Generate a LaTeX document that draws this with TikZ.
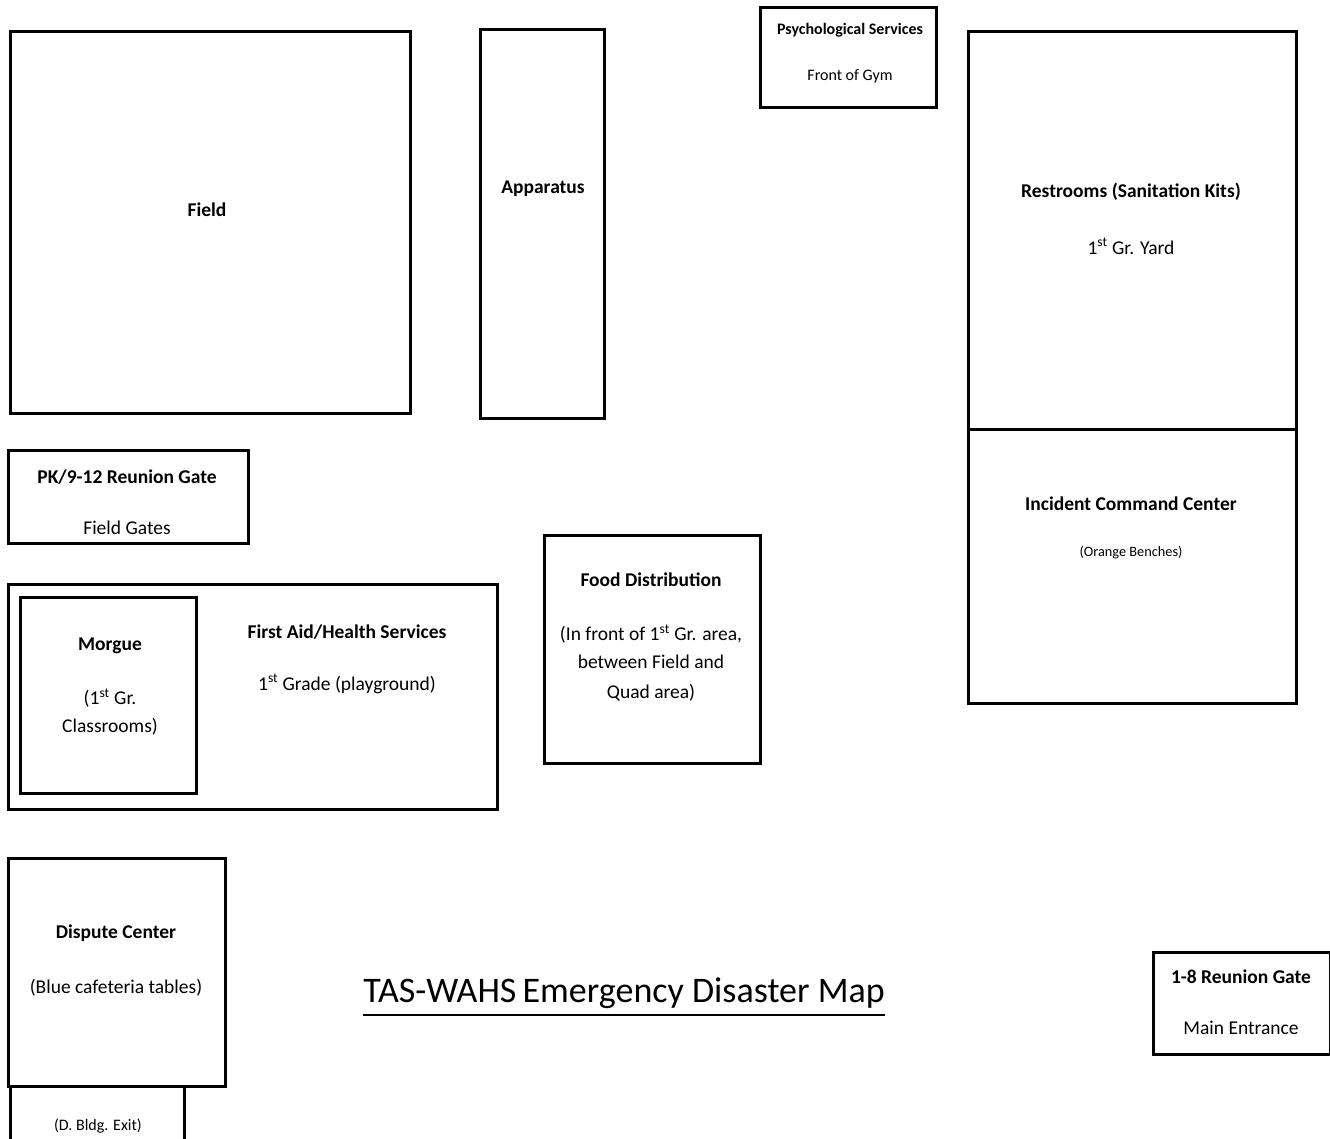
\documentclass[tikz,border=0pt]{standalone}
\usepackage{fontspec}
\setmainfont{Carlito}
\tikzset{
  zone/.style={draw=black, line width=3pt},
  zonetitle/.style={font=\fontsize{19.5}{23}\selectfont\bfseries, inner sep=0pt},
  zonetext/.style={font=\fontsize{19.5}{23}\selectfont, inner sep=0pt, align=center},
  smalltext/.style={font=\fontsize{14.3}{17}\selectfont, inner sep=0pt}
}
\begin{document}
\begin{tikzpicture}[x=1pt, y=-1pt]
    \useasboundingbox (0,0) rectangle (1330,1139);

    % Field and apparatus
    \draw[zone] (10,32) rectangle (410,413);
    \node[zonetitle] (field) at (207,210) {Field};
    \draw[zone] (480,30) rectangle (604,418);
    \node[zonetitle] (apparatus) at (543,189) {Apparatus};

    % Psychological services
    \draw[zone] (760,8) rectangle (936,108);
    \node[zonetitle, font=\fontsize{16}{19}\selectfont\bfseries] (psych) at (850,30) {Psychological Services};
    \node[zonetext, font=\fontsize{16}{19}\selectfont] (gym) at (850,76) {Front of Gym};

    % Restrooms and command center
    \draw[zone] (968,32) rectangle (1296,429);
    \node[zonetitle] (restrooms) at (1131,192) {Restrooms (Sanitation Kits)};
    \node[zonetext] (yard) at (1131,246) {1\textsuperscript{st} Gr. Yard};
    \draw[zone] (968,429) rectangle (1296,703);
    \node[zonetitle] (command) at (1131,504) {Incident Command Center};
    \node[smalltext] (benches) at (1131,552) {(Orange Benches)};

    % PK/9-12 gate
    \draw[zone] (8,450) rectangle (248,543);
    \node[zonetitle] (pkgate) at (127,477) {PK/9-12 Reunion Gate};
    \node[zonetext] (fieldgates) at (127,528) {Field Gates};

    % First aid and morgue
    \draw[zone] (8,584) rectangle (497,809);
    \node[zonetitle] (firstaid) at (347,632) {First Aid/Health Services};
    \node[zonetext] (playground) at (347,684) {1\textsuperscript{st} Grade (playground)};
    \draw[zone] (20,597) rectangle (196,793);
    \node[zonetitle] (morgue) at (110,646) {Morgue};
    \node[zonetext] (classrooms) at (110,712) {(1\textsuperscript{st} Gr.\\[5pt]Classrooms)};

    % Food distribution
    \draw[zone] (544,535) rectangle (760,763);
    \node[zonetitle] (food) at (651,580) {Food Distribution};
    \node[zonetext] (foodplace) at (651,663) {(In front of 1\textsuperscript{st} Gr. area,\\[5pt]between Field and\\[7pt]Quad area)};

    % Dispute center
    \draw[zone] (8,858) rectangle (225,1086);
    \node[zonetitle] (dispute) at (116,933) {Dispute Center};
    \node[zonetext] (tables) at (116,988) {(Blue cafeteria tables)};
    \draw[zone] (10,1086) rectangle (184,1150);
    \node[smalltext, font=\fontsize{16}{19}\selectfont] (exit) at (98,1126) {(D. Bldg. Exit)};

    % 1-8 gate
    \draw[zone] (1153,952) rectangle (1330,1054);
    \node[zonetitle] (gate18) at (1241,977) {1-8 Reunion Gate};
    \node[zonetext] (entrance) at (1241,1028) {Main Entrance};

    % Map title
    \node[inner sep=0pt, font=\fontsize{36}{40}\selectfont] (maptitle) at (624,993) {TAS-WAHS\hspace{-2pt} Emergency Disaster Map};
    \draw[line width=2.2pt] ([yshift=-6pt]maptitle.south west) -- ([yshift=-6pt]maptitle.south east);
\end{tikzpicture}
\end{document}
